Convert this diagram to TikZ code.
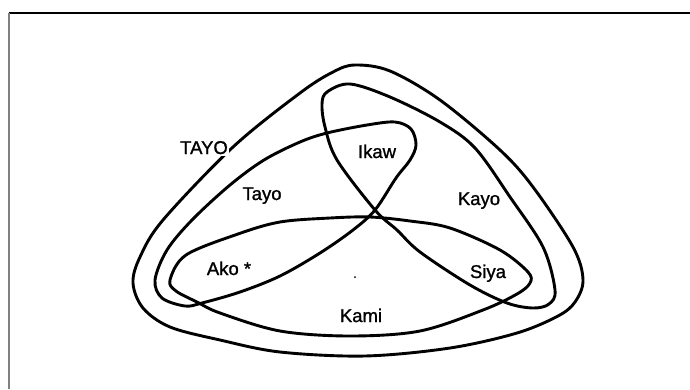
\documentclass[tikz,border=0pt]{standalone}
\usepackage{fontspec}
\setmainfont{Liberation Sans}
\newfontfamily\lblfont[FakeBold=1.2]{Liberation Sans}
\begin{document}
\begin{tikzpicture}[x=1pt,y=-1pt,
  curve/.style={line width=2.9pt, line join=round},
  lbl/.style={font=\lblfont\fontsize{18.5}{22}\selectfont, inner sep=0pt, anchor=base}]
\useasboundingbox (0,0) rectangle (690,389);
% frame
\coordinate (fTL) at (9,13);
\coordinate (fTR) at (690,13);
\coordinate (fBL) at (9,389);
\draw[line width=1.3pt] (fTL) -- (fTR);
\draw[gray, line width=1.3pt] (fTL) -- (fBL);
% outer TAYO
\draw[curve] plot[smooth cycle, tension=0.55] coordinates {
  (355,65) (390,71) (440,100) (500,150) (533,187) (573,247) (583,280)
  (575,302) (558,316) (517,333) (450,348) (365,356) (280,352) (220,340)
  (170,327) (143,308) (133,283) (140,257) (163,220) (233,147) (300,93) (333,72)};
% Kayo loop
\draw[curve] plot[smooth cycle, tension=0.55] coordinates {
  (327,92) (350,84) (390,97) (440,122) (475,148) (510,197) (543,247)
  (555,290) (549,304) (533,308) (507,303) (470,285) (420,252) (397,230)
  (375,210) (337,160) (325,127) (322,104)};
% Tayo loop
\draw[curve] plot[smooth cycle, tension=0.55] coordinates {
  (155,280) (167,250) (192,220) (230,185) (264,160) (300,142) (327,133)
  (367,125) (395,122) (411,129) (416,145) (410,160) (396,178) (375,210)
  (353,230) (320,253) (280,276) (240,292) (202,303) (185,306) (162,298)};
% Kami loop
\draw[curve] plot[smooth cycle, tension=0.55] coordinates {
  (170,280) (176,291) (197,302) (220,313) (280,331) (350,336) (420,331)
  (483,310) (517,294) (530,283) (528,272) (500,250) (450,228) (410,221)
  (370,217) (330,218) (280,222) (238,234) (186,255)};
% labels
\node[lbl, fill=white, inner sep=1.5pt] (tayoall) at (204,154) {TAYO};
\node[lbl] (tayo) at (262,200) {Tayo};
\node[lbl] (ikaw) at (377,158) {Ikaw};
\node[lbl] (kayo) at (479,205) {Kayo};
\node[lbl] (ako) at (229,275) {Ako *};
\node[lbl] (siya) at (488,278) {Siya};
\node[lbl] (kami) at (361,322) {Kami};
\fill (355,277) circle (1pt) coordinate (dot);
\end{tikzpicture}
\end{document}
